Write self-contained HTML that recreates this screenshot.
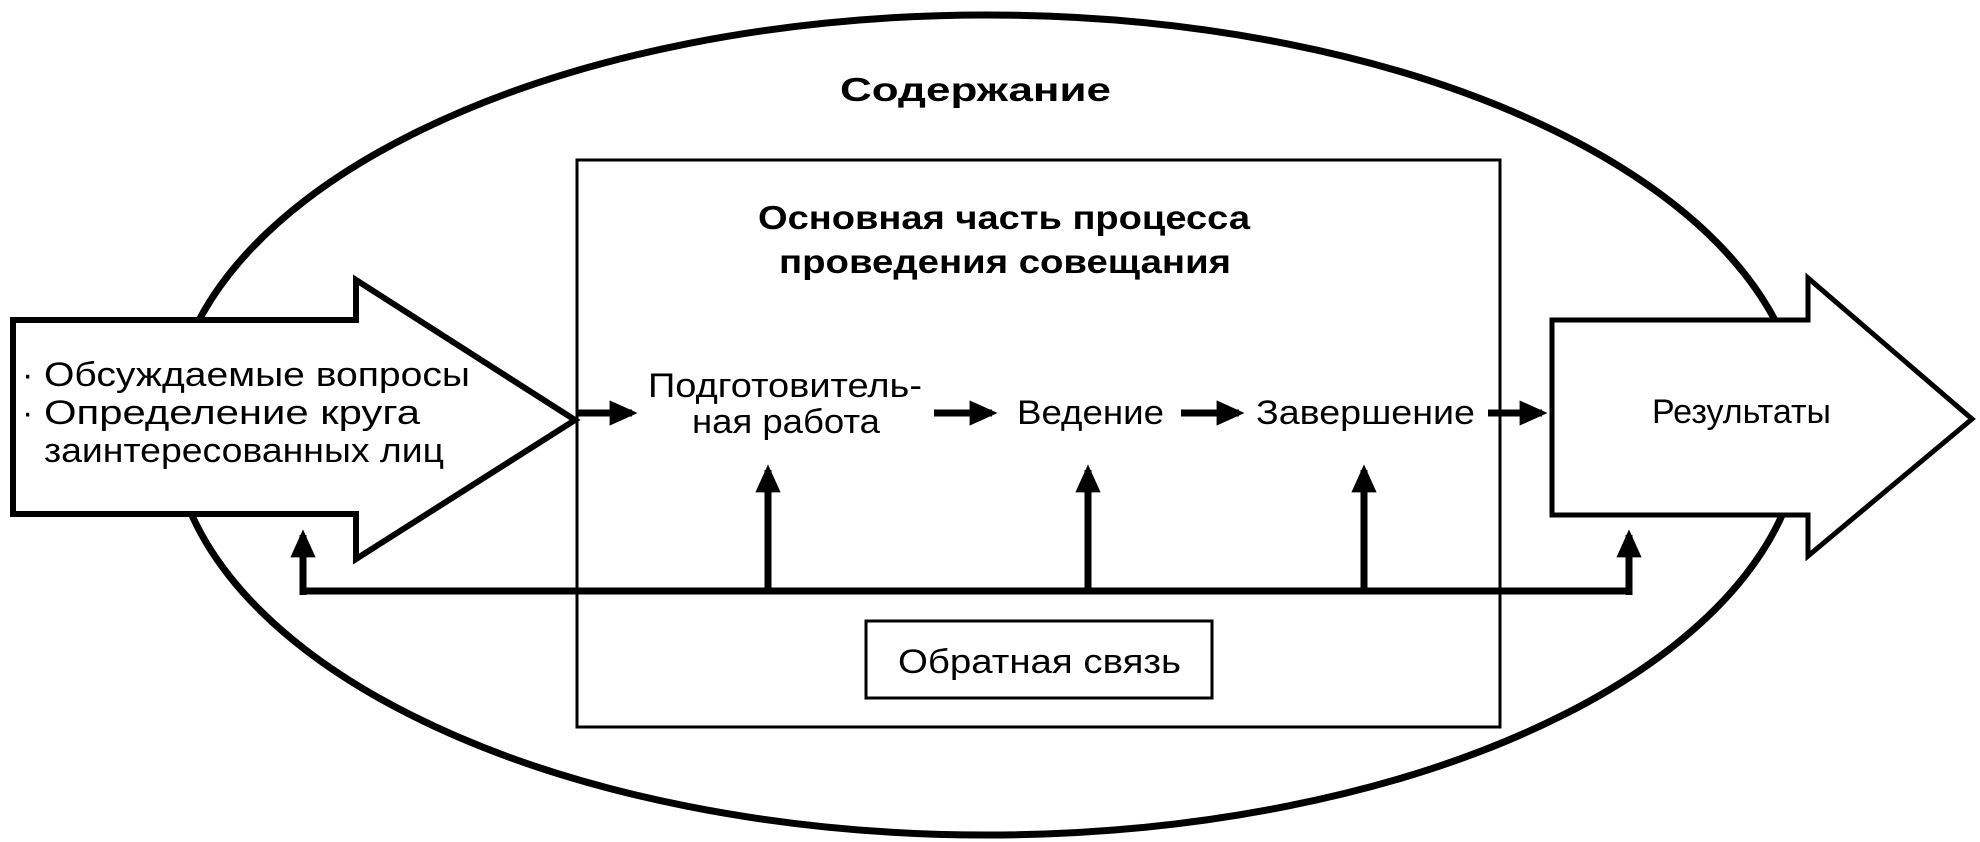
<!DOCTYPE html>
<html><head><meta charset="utf-8"><style>
html,body{margin:0;padding:0;background:#fff;}
svg{display:block;}
text{font-family:"Liberation Sans",Arial,sans-serif;fill:#000;}
</style></head><body>
<svg width="1980" height="842" viewBox="0 0 1980 842" xmlns="http://www.w3.org/2000/svg">
<rect width="1980" height="842" fill="#fff"/>
<defs>
<marker id="ah" markerWidth="4" markerHeight="4" refX="3.2" refY="2" orient="auto" markerUnits="strokeWidth">
<path d="M0,0.2 L4,2 L0,3.8 z" fill="#000"/>
</marker>
</defs>
<ellipse cx="987" cy="425" rx="815" ry="410" fill="none" stroke="#000" stroke-width="7"/>
<rect x="577" y="160" width="923" height="567" fill="none" stroke="#000" stroke-width="3"/>
<path d="M13,320 L356,320 L356,280 L575,420 L356,559 L356,514 L13,514 Z" fill="#fff" stroke="#000" stroke-width="6" stroke-linejoin="miter"/>
<path d="M1552,320 L1808,320 L1808,278 L1972,419 L1808,556 L1808,515 L1552,515 Z" fill="#fff" stroke="#000" stroke-width="5"/>
<g stroke="#000" stroke-width="7" fill="none">
<path d="M303,591 L1629,591"/>
<path d="M303,595 L303,535" marker-end="url(#ah)"/>
<path d="M1629,595 L1629,535" marker-end="url(#ah)"/>
<path d="M768,591 L768,470" marker-end="url(#ah)"/>
<path d="M1088,591 L1088,470" marker-end="url(#ah)"/>
<path d="M1364,591 L1364,470" marker-end="url(#ah)"/>
<path d="M577,413 L632,413" marker-end="url(#ah)"/>
<path d="M934,413 L992,413" marker-end="url(#ah)"/>
<path d="M1181,413 L1239,413" marker-end="url(#ah)"/>
<path d="M1488,413 L1542,413" marker-end="url(#ah)"/>
</g>
<rect x="866" y="621" width="346" height="77" fill="#fff" stroke="#000" stroke-width="3"/>
<text x="840" y="101" font-size="33" font-weight="bold" textLength="271" lengthAdjust="spacingAndGlyphs">Содержание</text>
<text x="758" y="229" font-size="33" font-weight="bold" textLength="492" lengthAdjust="spacingAndGlyphs">Основная часть процесса</text>
<text x="779" y="273" font-size="33" font-weight="bold" textLength="452" lengthAdjust="spacingAndGlyphs">проведения совещания</text>
<text x="22" y="386" font-size="34">·</text>
<text x="22" y="424" font-size="34">·</text>
<text x="44" y="386" font-size="34" textLength="426" lengthAdjust="spacingAndGlyphs">Обсуждаемые вопросы</text>
<text x="44" y="424" font-size="34" textLength="376" lengthAdjust="spacingAndGlyphs">Определение круга</text>
<text x="44" y="462" font-size="34" textLength="400" lengthAdjust="spacingAndGlyphs">заинтересованных лиц</text>
<text x="648" y="397" font-size="34" textLength="274" lengthAdjust="spacingAndGlyphs">Подготовитель-</text>
<text x="692" y="433" font-size="34" textLength="188" lengthAdjust="spacingAndGlyphs">ная работа</text>
<text x="1017" y="424" font-size="34" textLength="147" lengthAdjust="spacingAndGlyphs">Ведение</text>
<text x="1256" y="424" font-size="34" textLength="219" lengthAdjust="spacingAndGlyphs">Завершение</text>
<text x="1652" y="423" font-size="34" textLength="179" lengthAdjust="spacingAndGlyphs">Результаты</text>
<text x="898" y="673" font-size="34" textLength="283" lengthAdjust="spacingAndGlyphs">Обратная связь</text>
</svg>
</body></html>
